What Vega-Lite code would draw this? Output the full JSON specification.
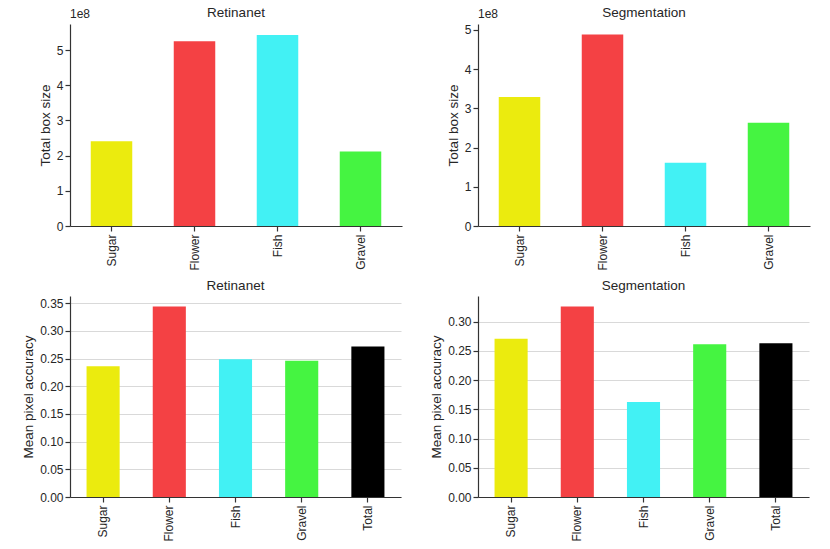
{
  "$schema": "https://vega.github.io/schema/vega-lite/v6.json",
  "padding": {"left": 21, "top": 5, "right": 5, "bottom": 2},
  "background": "white",
  "config": {
    "font": "Liberation Sans",
    "view": {"stroke": null},
    "title": {"fontSize": 13.5, "fontWeight": "normal", "color": "#262626", "offset": 4, "font": "Liberation Sans"},
    "axis": {
      "labelFont": "Liberation Sans", "titleFont": "Liberation Sans",
      "labelFontSize": 12, "titleFontSize": 13.5, "titleFontWeight": "normal",
      "labelColor": "#262626", "titleColor": "#262626",
      "domainColor": "#333333", "tickColor": "#333333", "domainWidth": 1.2, "tickWidth": 1.2, "tickSize": 5,
      "gridColor": "#d9d9d9", "gridWidth": 1
    },
    "axisX": {"labelAngle": 270, "title": null, "labelPadding": 3}
  },
  "datasets": {
    "box": [
      {"model": "Retinanet", "cls": "Sugar", "size": 241000000},
      {"model": "Retinanet", "cls": "Flower", "size": 525000000},
      {"model": "Retinanet", "cls": "Fish", "size": 543000000},
      {"model": "Retinanet", "cls": "Gravel", "size": 212000000},
      {"model": "Segmentation", "cls": "Sugar", "size": 329000000},
      {"model": "Segmentation", "cls": "Flower", "size": 488000000},
      {"model": "Segmentation", "cls": "Fish", "size": 161500000},
      {"model": "Segmentation", "cls": "Gravel", "size": 263500000}
    ],
    "acc": [
      {"model": "Retinanet", "cls": "Sugar", "acc": 0.236},
      {"model": "Retinanet", "cls": "Flower", "acc": 0.344},
      {"model": "Retinanet", "cls": "Fish", "acc": 0.2486},
      {"model": "Retinanet", "cls": "Gravel", "acc": 0.246},
      {"model": "Retinanet", "cls": "Total", "acc": 0.272},
      {"model": "Segmentation", "cls": "Sugar", "acc": 0.2704},
      {"model": "Segmentation", "cls": "Flower", "acc": 0.3256},
      {"model": "Segmentation", "cls": "Fish", "acc": 0.1625},
      {"model": "Segmentation", "cls": "Gravel", "acc": 0.2613},
      {"model": "Segmentation", "cls": "Total", "acc": 0.263}
    ]
  },
  "columns": 2,
  "spacing": {"column": 27, "row": 7},
  "concat": [
    {
      "title": {"text": "Retinanet", "offset": -11},
      "width": 332, "height": 202,
      "layer": [
        {
          "data": {"name": "box"},
          "transform": [{"filter": "datum.model === 'Retinanet'"}],
          "mark": {"type": "bar", "width": {"band": 1}},
          "encoding": {
            "x": {"field": "cls", "type": "nominal", "sort": ["Sugar", "Flower", "Fish", "Gravel"],
                  "scale": {"paddingInner": 0.5, "paddingOuter": 0.25}},
            "y": {"field": "size", "type": "quantitative", "title": "Total box size",
                  "scale": {"domain": [0, 574000000], "nice": false},
                  "axis": {"values": [0, 100000000, 200000000, 300000000, 400000000, 500000000], "labelExpr": "format(datum.value / 100000000, 'd')", "grid": false}},
            "color": {"field": "cls", "type": "nominal", "legend": null,
                      "scale": {"domain": ["Sugar", "Flower", "Fish", "Gravel", "Total"], "range": ["#ebeb0e", "#f44144", "#42f1f4", "#45f441", "#000000"]}}
          }
        },
        {
          "data": {"values": [{"label": "1e8"}]},
          "mark": {"type": "text", "align": "left", "baseline": "bottom", "dy": -3, "fontSize": 12, "color": "#262626"},
          "encoding": {
            "text": {"field": "label"},
            "x": {"value": 0},
            "y": {"datum": 574000000, "type": "quantitative"}
          }
        }
      ]
    },
    {
      "title": {"text": "Segmentation", "offset": -11},
      "width": 332, "height": 202,
      "layer": [
        {
          "data": {"name": "box"},
          "transform": [{"filter": "datum.model === 'Segmentation'"}],
          "mark": {"type": "bar", "width": {"band": 1}},
          "encoding": {
            "x": {"field": "cls", "type": "nominal", "sort": ["Sugar", "Flower", "Fish", "Gravel"],
                  "scale": {"paddingInner": 0.5, "paddingOuter": 0.25}},
            "y": {"field": "size", "type": "quantitative", "title": "Total box size",
                  "scale": {"domain": [0, 515000000], "nice": false},
                  "axis": {"values": [0, 100000000, 200000000, 300000000, 400000000, 500000000], "labelExpr": "format(datum.value / 100000000, 'd')", "grid": false}},
            "color": {"field": "cls", "type": "nominal", "legend": null,
                      "scale": {"domain": ["Sugar", "Flower", "Fish", "Gravel", "Total"], "range": ["#ebeb0e", "#f44144", "#42f1f4", "#45f441", "#000000"]}}
          }
        },
        {
          "data": {"values": [{"label": "1e8"}]},
          "mark": {"type": "text", "align": "left", "baseline": "bottom", "dy": -3, "fontSize": 12, "color": "#262626"},
          "encoding": {
            "text": {"field": "label"},
            "x": {"value": 0},
            "y": {"datum": 515000000, "type": "quantitative"}
          }
        }
      ]
    },
    {
      "title": "Retinanet",
      "width": 331, "height": 201,
      "data": {"name": "acc"},
      "transform": [{"filter": "datum.model === 'Retinanet'"}],
      "mark": {"type": "bar", "width": {"band": 1}},
      "encoding": {
        "x": {"field": "cls", "type": "nominal", "sort": ["Sugar", "Flower", "Fish", "Gravel", "Total"],
              "scale": {"paddingInner": 0.5, "paddingOuter": 0.25}},
        "y": {"field": "acc", "type": "quantitative", "title": "Mean pixel accuracy",
              "scale": {"domain": [0, 0.363], "nice": false},
              "axis": {"values": [0, 0.05, 0.1, 0.15, 0.2, 0.25, 0.3, 0.35], "format": ".2f", "grid": true}},
        "color": {"field": "cls", "type": "nominal", "legend": null,
                  "scale": {"domain": ["Sugar", "Flower", "Fish", "Gravel", "Total"], "range": ["#ebeb0e", "#f44144", "#42f1f4", "#45f441", "#000000"]}}
      }
    },
    {
      "title": "Segmentation",
      "width": 331, "height": 201,
      "data": {"name": "acc"},
      "transform": [{"filter": "datum.model === 'Segmentation'"}],
      "mark": {"type": "bar", "width": {"band": 1}},
      "encoding": {
        "x": {"field": "cls", "type": "nominal", "sort": ["Sugar", "Flower", "Fish", "Gravel", "Total"],
              "scale": {"paddingInner": 0.5, "paddingOuter": 0.25}},
        "y": {"field": "acc", "type": "quantitative", "title": "Mean pixel accuracy",
              "scale": {"domain": [0, 0.3436], "nice": false},
              "axis": {"values": [0, 0.05, 0.1, 0.15, 0.2, 0.25, 0.3], "format": ".2f", "grid": true}},
        "color": {"field": "cls", "type": "nominal", "legend": null,
                  "scale": {"domain": ["Sugar", "Flower", "Fish", "Gravel", "Total"], "range": ["#ebeb0e", "#f44144", "#42f1f4", "#45f441", "#000000"]}}
      }
    }
  ],
  "resolve": {"scale": {"color": "shared"}}
}
